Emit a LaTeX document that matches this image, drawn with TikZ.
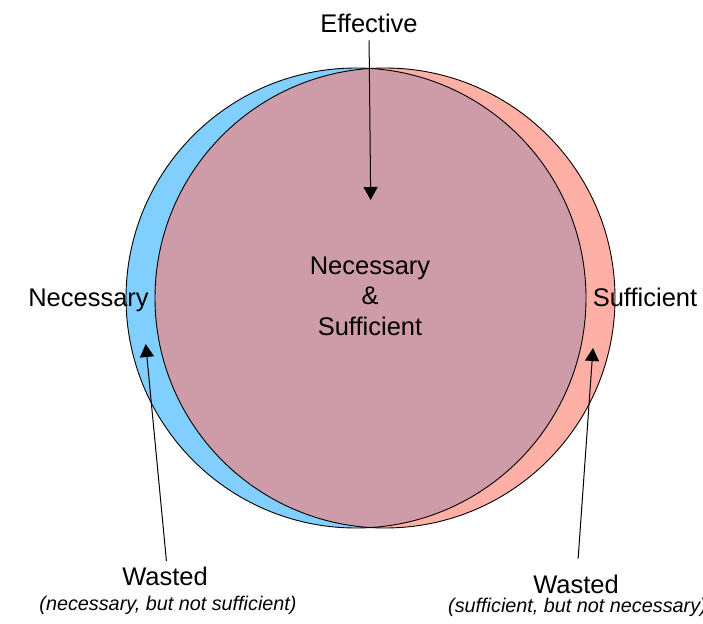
\documentclass[tikz,border=0pt]{standalone}
\usepackage{fontspec}
\setmainfont{Liberation Sans}
\usetikzlibrary{arrows.meta}
\definecolor{necblue}{RGB}{128,207,255}
\definecolor{sufpink}{RGB}{255,176,166}
\definecolor{bothmauve}{RGB}{206,156,168}
\tikzset{
	label_big/.style = {
		align=center,
		inner sep=0pt,
		font=\fontsize{25.5}{30.5}\selectfont
	},
	label_note/.style = {
		inner sep=0pt,
		font=\fontsize{19.8}{23}\selectfont\itshape
	},
	set_edge/.style = {
		draw=black,
		line width=0.9pt
	},
	arrow_line/.style = {
		->,
		line width=1pt
	},
}

\begin{document}
\begin{tikzpicture}[x=1pt,y=-1pt,>={Triangle[width=14pt,length=13pt]}]
\useasboundingbox (0,0) rectangle (703,623);
\fill[necblue] (356,298) circle (230);
\fill[sufpink] (385,298) circle (230);
\begin{scope}
	\clip (356,298) circle (230);
	\fill[bothmauve] (385,298) circle (230);
\end{scope}
\draw[set_edge] (356,298) circle (230);
\draw[set_edge] (385,298) circle (230);

\node [label_big] (both) at (370,296) {Necessary\\\&\\Sufficient};
\node [label_big, anchor=base] (effective) at (369,33) {Effective};
\node [label_big, anchor=base] (necessary) at (88.5,306) {Necessary};
\node [label_big, anchor=base] (sufficient) at (645,306.7) {Sufficient};
\node [label_big, anchor=base] (wasted_n) at (165,585.7) {Wasted};
\node [label_note, anchor=base] (note_n) at (168,610) {(necessary, but not sufficient)};
\node [label_big, anchor=base] (wasted_s) at (576,593.3) {Wasted};
\node [label_note, anchor=base west] (note_s) at (448,612.5) {(sufficient, but not necessary)};

\coordinate (tip_e) at (370.7,200);
\coordinate (tip_n) at (145.7,344);
\coordinate (tip_s) at (593,348);

\draw [arrow_line, shorten <=7pt] (effective.south) -- (tip_e);
\draw [arrow_line, shorten <=6pt] ([xshift=2pt]wasted_n.north) -- (tip_n);
\draw [arrow_line, shorten <=16pt] ([xshift=1pt]wasted_s.north) -- (tip_s);
\end{tikzpicture}
\end{document}
